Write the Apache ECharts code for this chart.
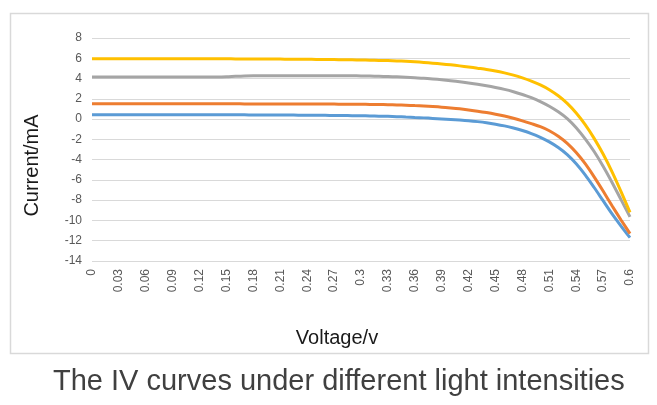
<!DOCTYPE html>
<html>
<head>
<meta charset="utf-8">
<script src="https://cdn.jsdelivr.net/npm/echarts@6/dist/echarts.min.js"></script>
<style>
html,body{margin:0;padding:0;background:#fff;}
#chart{width:657px;height:405px;}
</style>
</head>
<body>
<div id="chart"></div>
<script>
// Voltage categories (V), 0.00 .. 0.60 step 0.01
var categories = [
 '0','0.01','0.02','0.03','0.04','0.05','0.06','0.07','0.08','0.09',
 '0.1','0.11','0.12','0.13','0.14','0.15','0.16','0.17','0.18','0.19',
 '0.2','0.21','0.22','0.23','0.24','0.25','0.26','0.27','0.28','0.29',
 '0.3','0.31','0.32','0.33','0.34','0.35','0.36','0.37','0.38','0.39',
 '0.4','0.41','0.42','0.43','0.44','0.45','0.46','0.47','0.48','0.49',
 '0.5','0.51','0.52','0.53','0.54','0.55','0.56','0.57','0.58','0.59',
 '0.6'
];
// Current (mA) for the four light intensities
var seriesBlue = [
 0.44,0.44,0.44,0.44,0.44,0.44,0.44,0.44,0.44,0.43,
 0.43,0.43,0.43,0.43,0.42,0.42,0.42,0.42,0.41,0.41,
 0.41,0.40,0.40,0.39,0.39,0.38,0.37,0.36,0.35,0.34,
 0.33,0.31,0.29,0.27,0.24,0.20,0.16,0.12,0.07,0.02,
 -0.03,-0.09,-0.16,-0.25,-0.36,-0.50,-0.67,-0.88,-1.13,-1.43,
 -1.80,-2.25,-2.80,-3.50,-4.40,-5.50,-6.75,-8.05,-9.35,-10.55,
 -11.70
];
var seriesOrange = [
 1.52,1.52,1.52,1.52,1.52,1.52,1.52,1.52,1.52,1.52,
 1.52,1.52,1.51,1.51,1.51,1.51,1.51,1.50,1.50,1.50,
 1.50,1.50,1.49,1.49,1.49,1.48,1.48,1.48,1.47,1.47,
 1.46,1.45,1.44,1.42,1.40,1.37,1.33,1.29,1.24,1.18,
 1.10,1.01,0.90,0.78,0.64,0.48,0.30,0.08,-0.17,-0.45,
 -0.75,-1.15,-1.70,-2.40,-3.30,-4.40,-5.70,-7.10,-8.55,-9.95,
 -11.30
];
var seriesGray = [
 4.15,4.15,4.15,4.15,4.15,4.15,4.15,4.15,4.15,4.15,
 4.15,4.15,4.15,4.15,4.15,4.17,4.22,4.26,4.28,4.28,
 4.28,4.28,4.28,4.28,4.28,4.28,4.28,4.28,4.28,4.27,
 4.26,4.24,4.22,4.20,4.17,4.13,4.08,4.03,3.96,3.88,
 3.79,3.69,3.57,3.44,3.29,3.12,2.93,2.70,2.43,2.11,
 1.73,1.27,0.72,0.05,-0.85,-1.95,-3.20,-4.65,-6.25,-7.95,
 -9.65
];
var seriesYellow = [
 5.95,5.95,5.95,5.95,5.95,5.95,5.95,5.95,5.95,5.95,
 5.95,5.95,5.95,5.95,5.95,5.95,5.94,5.94,5.93,5.93,
 5.92,5.92,5.91,5.91,5.90,5.89,5.88,5.87,5.86,5.85,
 5.83,5.81,5.79,5.77,5.74,5.70,5.65,5.59,5.52,5.44,
 5.35,5.25,5.14,5.02,4.90,4.75,4.56,4.34,4.07,3.75,
 3.37,2.90,2.30,1.55,0.60,-0.55,-1.90,-3.45,-5.20,-7.15,
 -9.20
];
var yTicks = {min: -14, max: 8, interval: 2};
var xAxisName = 'Voltage/v';
var yAxisName = 'Current/mA';
var caption = 'The IV curves under different light intensities';

var chart = echarts.init(document.getElementById('chart'), null, {renderer: 'canvas'});
var font = '"Liberation Sans", Arial, sans-serif';
function lineSeries(data, color) {
  return {
    type: 'line', data: data, smooth: 0.3, showSymbol: false, symbol: 'none',
    lineStyle: {color: color, width: 3}, itemStyle: {color: color}, silent: true
  };
}
chart.setOption({
  animation: false,
  backgroundColor: '#ffffff',
  title: {
    text: caption, left: 48, top: 362,
    textStyle: {fontFamily: font, fontSize: 29, fontWeight: 'normal', color: '#404040'}
  },
  graphic: [{
    type: 'rect', shape: {x: 10.5, y: 13.5, width: 638, height: 340},
    style: {fill: 'none', stroke: '#d9d9d9', lineWidth: 1.5}, silent: true
  }],
  grid: {left: 92, right: 27, top: 38, bottom: 144},
  xAxis: {
    type: 'category', data: categories, boundaryGap: false,
    name: xAxisName, nameLocation: 'middle', nameGap: 67,
    nameTextStyle: {fontFamily: font, fontSize: 20, color: '#1a1a1a', padding: [0, 48, 0, 0]},
    axisLine: {show: false}, axisTick: {show: false},
    axisLabel: {interval: 2, rotate: 90, margin: 8, fontFamily: font, fontSize: 12, color: '#595959'},
    splitLine: {show: false}
  },
  yAxis: {
    type: 'value', min: yTicks.min, max: yTicks.max, interval: yTicks.interval,
    name: yAxisName, nameLocation: 'middle', nameGap: 50,
    nameTextStyle: {fontFamily: font, fontSize: 20, color: '#1a1a1a', padding: [0, 32, 0, 0]},
    axisLine: {show: false}, axisTick: {show: false},
    axisLabel: {margin: 10, fontFamily: font, fontSize: 12, color: '#595959'},
    splitLine: {lineStyle: {color: '#d9d9d9', width: 1}}
  },
  series: [
    lineSeries(seriesBlue, '#5B9BD5'),
    lineSeries(seriesOrange, '#ED7D31'),
    lineSeries(seriesGray, '#A5A5A5'),
    lineSeries(seriesYellow, '#FFC000')
  ]
});
</script>
</body>
</html>
